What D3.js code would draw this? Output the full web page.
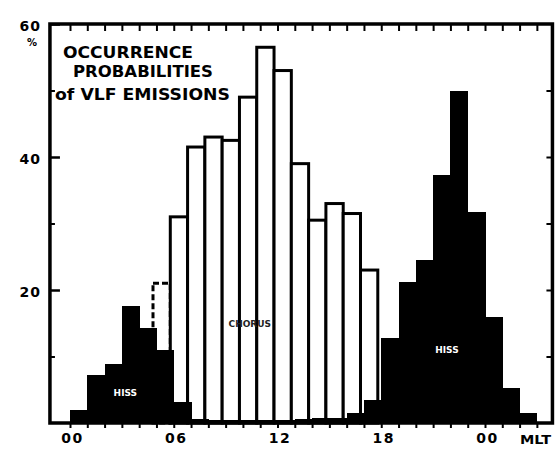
<!DOCTYPE html>
<html>
<head>
<meta charset="utf-8">
<script src="https://cdn.jsdelivr.net/npm/d3@7"></script>
<style>
  html, body { margin: 0; padding: 0; background: #fff; }
  svg { display: block; }
  text { font-family: "DejaVu Sans", sans-serif; font-weight: bold; }
</style>
</head>
<body>
<script>
// ---- data ----
const titleLines = ["OCCURRENCE", "PROBABILITIES", "of VLF EMISSIONS"];
const xTickHours = [0, 6, 12, 18, 24];
const xTickLabels = ["00", "06", "12", "18", "00"];
const xUnit = "MLT";
const yTickValues = [20, 40, 60];
const yTickLabels = ["20", "40", "60"];
const yUnit = "%";

// daytime emissions (white, outlined bars), hour bins starting at 05 MLT
const whiteHours  = [5, 6, 7, 8, 9, 10, 11, 12, 13, 14, 15, 16, 17];
const whiteValues = [21, 31, 41.5, 43, 42.5, 49, 56.5, 53, 39, 30.5, 33, 31.5, 23];

// night-side emissions (black bars), hour bins 00 .. 26 MLT
const blackHours  = [0, 1, 2, 3, 4, 5, 6, 7, 8, 9, 10, 11, 12, 13, 14, 15, 16, 17, 18, 19, 20, 21, 22, 23, 24, 25, 26];
const blackValues = [2, 7.2, 8.9, 17.6, 14.3, 11, 3.2, 0.6, 0.5, 0.5, 0.4, 0.5, 0.5, 0.6, 0.7, 0.8, 1.5, 3.5, 12.8, 21.2, 24.5, 37.3, 50, 31.7, 16, 5.3, 1.5];

// faint in-bar labels (scan is illegible)
const innerLabels = [
  { text: "HISS", hour: 3.2, value: 4, fill: "#fff" },
  { text: "CHORUS", hour: 10.4, value: 14.5, fill: "#222" },
  { text: "HISS", hour: 21.8, value: 10.5, fill: "#fff" }
];

// ---- drawing ----
const W = 555, H = 465;
const svg = d3.select("body").append("svg").attr("width", W).attr("height", H);

const x = d3.scaleLinear().domain([0, 24]).range([70, 485]);
const y = d3.scaleLinear().domain([0, 60]).range([423, 24]);
const xMin = -1.16, xMax = 27.9;
const whiteShift = -0.2;

const data = whiteHours.map((h, i) => ({ h, v: whiteValues[i] }));
const dataB = blackHours.map((h, i) => ({ h, v: blackValues[i] }));

// white bars (behind)
svg.append("g").selectAll("rect").data(data).join("rect")
  .attr("x", d => x(d.h + whiteShift))
  .attr("width", d => x(d.h + 1) - x(d.h))
  .attr("y", d => y(d.v))
  .attr("height", d => y(0) - y(d.v))
  .attr("fill", "#fff")
  .attr("stroke", "#000")
  .attr("stroke-width", 3)
  .attr("stroke-dasharray", d => d.h === 5 ? "6,3" : null);

// black bars (in front)
svg.append("g").selectAll("rect").data(dataB).join("rect")
  .attr("x", d => x(d.h))
  .attr("width", d => x(d.h + 1) - x(d.h) + 0.6)
  .attr("y", d => y(d.v))
  .attr("height", d => y(0) - y(d.v))
  .attr("fill", "#000")
  .attr("shape-rendering", "crispEdges");

// inner labels
svg.append("g").selectAll("text").data(innerLabels).join("text")
  .attr("x", d => x(d.hour)).attr("y", d => y(d.value))
  .attr("text-anchor", "middle")
  .attr("font-size", 9)
  .attr("fill", d => d.fill)
  .text(d => d.text);

// frame
const fx0 = x(xMin), fx1 = x(xMax);
svg.append("rect")
  .attr("x", fx0).attr("y", y(60))
  .attr("width", fx1 - fx0).attr("height", y(0) - y(60))
  .attr("fill", "none").attr("stroke", "#000").attr("stroke-width", 3.5);

// axes via d3
const hourTicks = d3.range(0, 28);
const bottomAxis = d3.axisBottom(x).tickValues(hourTicks).tickSize(5).tickFormat("");
svg.append("g").attr("transform", `translate(0,${y(0)})`).call(bottomAxis)
  .call(g => g.select(".domain").remove())
  .call(g => g.selectAll("line").attr("stroke-width", 2));

const topAxis = d3.axisBottom(x).tickValues(hourTicks).tickSize(7).tickFormat("");
svg.append("g").attr("transform", `translate(0,${y(60)})`).call(topAxis)
  .call(g => g.select(".domain").remove())
  .call(g => g.selectAll("line").attr("stroke-width", 2));

const xLabAxis = d3.axisBottom(x).tickValues(xTickHours).tickSize(0)
  .tickFormat((d, i) => xTickLabels[i]);
svg.append("g").attr("transform", `translate(2,${y(0) + 7})`).call(xLabAxis)
  .call(g => g.select(".domain").remove())
  .call(g => g.selectAll("text").attr("font-size", 14).attr("font-family", "DejaVu Sans").attr("font-weight", "bold").attr("fill", "#000").attr("letter-spacing", 1.5));

svg.append("text").attr("x", x(24) + 35).attr("y", y(0) + 21)
  .attr("font-size", 13).attr("textLength", 31).attr("lengthAdjust", "spacingAndGlyphs")
  .text(xUnit);

const leftMinor = d3.axisRight(y).tickValues([10, 30, 50]).tickSize(5).tickFormat("");
svg.append("g").attr("transform", `translate(${fx0},0)`).call(leftMinor)
  .call(g => g.select(".domain").remove())
  .call(g => g.selectAll("line").attr("stroke-width", 2));
const leftMajor = d3.axisRight(y).tickValues(yTickValues).tickSize(10).tickFormat("");
svg.append("g").attr("transform", `translate(${fx0},0)`).call(leftMajor)
  .call(g => g.select(".domain").remove())
  .call(g => g.selectAll("line").attr("stroke-width", 2.5));

const leftLab = d3.axisLeft(y).tickValues(yTickValues).tickSize(0).tickPadding(9)
  .tickFormat((d, i) => yTickLabels[i]);
svg.append("g").attr("transform", `translate(${fx0},0)`).call(leftLab)
  .call(g => g.select(".domain").remove())
  .call(g => g.selectAll("text").attr("font-size", 14).attr("font-family", "DejaVu Sans").attr("font-weight", "bold").attr("fill", "#000").attr("dy", "0.45em").attr("letter-spacing", 1));

svg.append("text").attr("x", fx0 - 13).attr("y", y(60) + 22)
  .attr("text-anchor", "end").attr("font-size", 10).text(yUnit);

const rightAxis = d3.axisLeft(y).tickValues([10, 20, 30, 40, 50]).tickSize(6).tickFormat("");
svg.append("g").attr("transform", `translate(${fx1},0)`).call(rightAxis)
  .call(g => g.select(".domain").remove())
  .call(g => g.selectAll("line").attr("stroke-width", 2));

// title
const titlePos = [
  { x: 63, y: 58, w: 130 },
  { x: 73, y: 77, w: 140 },
  { x: 55, y: 100, w: 175 }
];
svg.append("g").selectAll("text").data(titleLines).join("text")
  .attr("x", (d, i) => titlePos[i].x)
  .attr("y", (d, i) => titlePos[i].y)
  .attr("font-size", 15)
  .attr("textLength", (d, i) => titlePos[i].w)
  .attr("lengthAdjust", "spacingAndGlyphs")
  .text(d => d);
</script>
</body>
</html>
